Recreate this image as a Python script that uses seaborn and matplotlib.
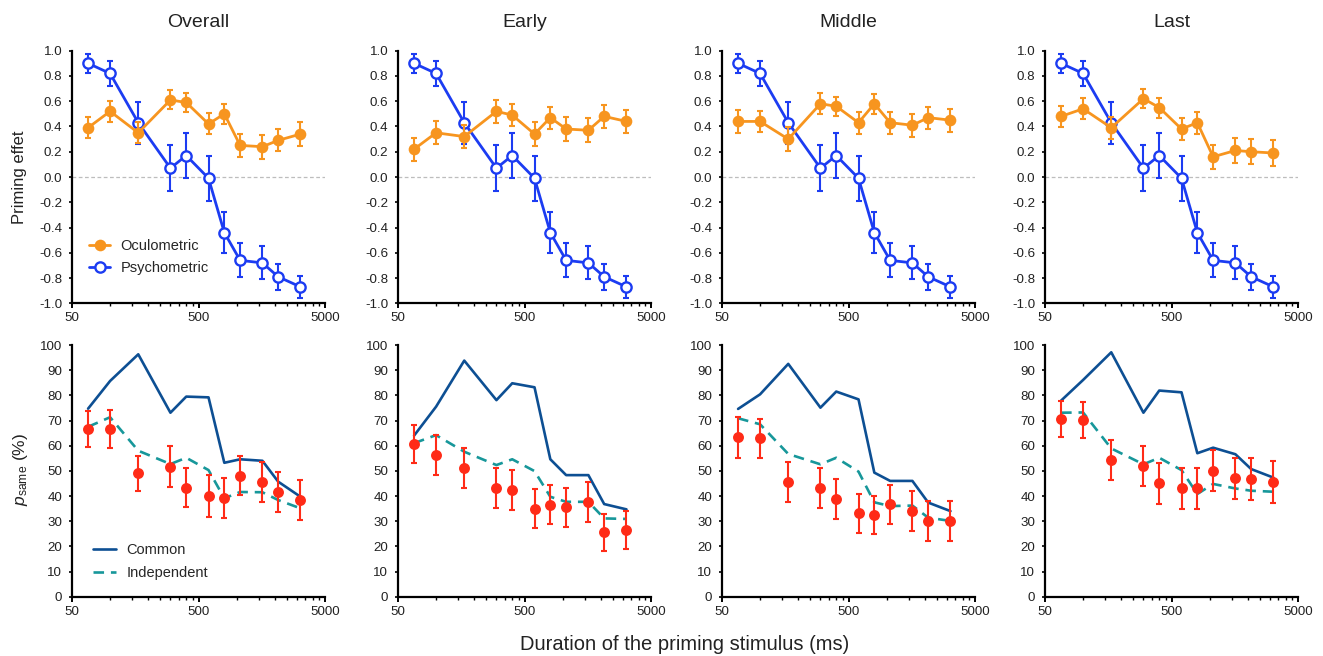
import numpy as np
import pandas as pd
import matplotlib
matplotlib.use("Agg")
import matplotlib.pyplot as plt
from matplotlib.lines import Line2D
from matplotlib.ticker import FixedLocator, FixedFormatter, NullFormatter
import seaborn as sns

# ---------------------------------------------------------------- data
durations = [67, 100, 167, 300, 400, 600, 800, 1067, 1600, 2133, 3200]  # ms
periods = ["Overall", "Early", "Middle", "Last"]

psychometric = [0.90, 0.82, 0.43, 0.07, 0.17, -0.01, -0.44, -0.66, -0.68, -0.79, -0.87]
psychometric_err = [0.075, 0.10, 0.165, 0.18, 0.175, 0.18, 0.16, 0.135, 0.13, 0.105, 0.085]

oculo_overall = [0.39, 0.52, 0.35, 0.61, 0.59, 0.42, 0.50, 0.25, 0.24, 0.29, 0.34]
oculo_overall_err = [0.083, 0.082, 0.082, 0.075, 0.078, 0.083, 0.08, 0.09, 0.094, 0.088, 0.092]
oculo_early = [0.22, 0.35, 0.32, 0.52, 0.49, 0.34, 0.47, 0.38, 0.37, 0.48, 0.44]
oculo_early_err = [0.092, 0.092, 0.092, 0.09, 0.09, 0.092, 0.087, 0.092, 0.095, 0.09, 0.092]
oculo_middle = [0.44, 0.44, 0.30, 0.58, 0.56, 0.43, 0.58, 0.43, 0.41, 0.47, 0.45]
oculo_middle_err = [0.092, 0.086, 0.092, 0.082, 0.077, 0.088, 0.079, 0.088, 0.09, 0.087, 0.092]
oculo_last = [0.48, 0.54, 0.39, 0.62, 0.55, 0.38, 0.43, 0.16, 0.21, 0.20, 0.19]
oculo_last_err = [0.082, 0.082, 0.087, 0.077, 0.079, 0.09, 0.088, 0.096, 0.096, 0.099, 0.099]

psame_overall = [66.6, 66.6, 49.0, 51.7, 43.3, 40.0, 39.3, 48.1, 45.7, 41.7, 38.4]
psame_overall_err = [7.1, 7.5, 7.0, 8.0, 7.7, 8.2, 8.0, 7.8, 8.0, 8.0, 8.0]
common_overall = [74.7, 85.7, 96.3, 73.1, 79.5, 79.2, 53.2, 54.6, 54.0, 45.7, 39.7]
indep_overall = [67.5, 71.3, 58.0, 52.7, 55.2, 50.3, 39.1, 41.6, 41.5, 38.4, 35.1]

psame_early = [60.7, 56.3, 51.0, 43.3, 42.4, 35.0, 36.6, 35.5, 37.6, 25.6, 26.5]
psame_early_err = [7.6, 8.0, 8.0, 8.0, 8.1, 7.6, 7.6, 7.7, 7.9, 7.4, 7.6]
common_early = [64.0, 75.5, 93.8, 78.1, 84.8, 83.2, 54.6, 48.3, 48.3, 36.8, 34.7]
indep_early = [61.0, 64.2, 57.6, 52.3, 54.6, 49.9, 39.7, 37.7, 37.7, 31.1, 30.9]

psame_middle = [63.3, 62.9, 45.7, 43.3, 38.8, 33.1, 32.5, 36.7, 34.0, 30.1, 30.1]
psame_middle_err = [8.0, 7.7, 8.0, 8.0, 8.0, 7.6, 7.6, 7.7, 8.0, 7.8, 7.8]
common_middle = [74.6, 80.4, 92.5, 75.1, 81.5, 78.4, 49.3, 46.0, 46.0, 37.4, 34.0]
indep_middle = [70.9, 68.5, 56.7, 52.6, 55.2, 49.7, 37.5, 36.0, 36.2, 31.4, 30.1]

psame_last = [70.5, 70.2, 54.3, 51.9, 45.0, 43.0, 43.0, 50.1, 47.0, 46.8, 45.7]
psame_last_err = [7.2, 7.3, 8.0, 8.1, 8.1, 8.2, 8.0, 8.1, 8.1, 8.4, 8.4]
common_last = [77.9, 86.1, 97.1, 73.1, 81.9, 81.2, 57.0, 59.2, 56.6, 50.7, 47.3]
indep_last = [73.1, 73.2, 58.9, 52.6, 55.2, 50.3, 40.8, 44.8, 43.0, 42.1, 41.7]

oculo = [(oculo_overall, oculo_overall_err), (oculo_early, oculo_early_err),
         (oculo_middle, oculo_middle_err), (oculo_last, oculo_last_err)]
psame = [(psame_overall, psame_overall_err, common_overall, indep_overall),
         (psame_early, psame_early_err, common_early, indep_early),
         (psame_middle, psame_middle_err, common_middle, indep_middle),
         (psame_last, psame_last_err, common_last, indep_last)]

# ---------------------------------------------------------------- style
sns.set_style("ticks")
plt.rcParams["font.family"] = ["Liberation Sans", "DejaVu Sans"]
plt.rcParams["mathtext.fontset"] = "custom"
plt.rcParams["mathtext.it"] = "Liberation Sans:italic"
plt.rcParams["mathtext.rm"] = "Liberation Sans"
plt.rcParams["axes.unicode_minus"] = False

ORANGE = "#F7951F"
BLUE = "#1C3CF2"
DARKBLUE = "#0D4F93"
TEAL = "#17979A"
RED = "#FF2B17"
TEXT = "#222222"

W, H = 1323, 656
fig = plt.figure(figsize=(W / 100, H / 100), dpi=100)

lefts = [72, 398, 722, 1045]
ax_w = 253
top_row = (50.7, 303.3)
bot_row = (345.0, 596.7)


def make_axes(left, row):
    t, b = row
    return fig.add_axes([left / W, 1 - b / H, ax_w / W, (b - t) / H])


major_x = [50, 500, 5000]
minor_x = [m * 10 ** e for e in (1, 2) for m in (10, 15, 20, 25, 30, 35, 40, 45)]


def fmt_effect(v):
    v = round(v, 1)
    return f"{abs(v):.1f}" if v == 0 else f"{v:.1f}"


def style_axes(ax, ylim, yticks, yfmt):
    ax.set_xscale("log")
    ax.set_xlim(50, 5000)
    ax.set_ylim(*ylim)
    ax.xaxis.set_major_locator(FixedLocator(major_x))
    ax.xaxis.set_major_formatter(FixedFormatter([str(v) for v in major_x]))
    ax.xaxis.set_minor_locator(FixedLocator(minor_x))
    ax.xaxis.set_minor_formatter(NullFormatter())
    ax.set_yticks(yticks)
    ax.set_yticklabels([yfmt(v) for v in yticks])
    for s in ("top", "right"):
        ax.spines[s].set_visible(False)
    for s in ("left", "bottom"):
        ax.spines[s].set_linewidth(1.6)
        ax.spines[s].set_color("black")
    ax.tick_params(axis="x", which="major", length=3.5, width=1.4, pad=3,
                   labelsize=9.6, colors="black", labelcolor=TEXT)
    ax.tick_params(axis="x", which="minor", length=2.2, width=1.0, colors="black")
    ax.tick_params(axis="y", which="major", length=2.5, width=1.2, pad=4.5,
                   labelsize=9.6, colors="black", labelcolor=TEXT)
    ax.set_xlabel("")
    ax.set_ylabel("")


top_axes, bot_axes = [], []
for i, name in enumerate(periods):
    # ---- priming effect panel
    ax = make_axes(lefts[i], top_row)
    ax.set_xscale("log")
    ax.axhline(0, color="#BDBDBD", lw=0.9, ls=(0, (3, 2)), zorder=1)

    df_p = pd.DataFrame({"duration": durations, "effect": psychometric})
    ax.errorbar(durations, psychometric, yerr=psychometric_err, fmt="none",
                ecolor=BLUE, elinewidth=1.5, capsize=2.2, capthick=1.5, zorder=2)
    sns.lineplot(data=df_p, x="duration", y="effect", ax=ax, color=BLUE,
                 linewidth=2.0, marker="o", markersize=7.4, markerfacecolor="white",
                 markeredgecolor=BLUE, markeredgewidth=1.7, errorbar=None,
                 zorder=3)

    vals, errs = oculo[i]
    df_o = pd.DataFrame({"duration": durations, "effect": vals})
    ax.errorbar(durations, vals, yerr=errs, fmt="none", ecolor=ORANGE,
                elinewidth=1.5, capsize=2.2, capthick=1.5, zorder=4)
    sns.lineplot(data=df_o, x="duration", y="effect", ax=ax, color=ORANGE,
                 linewidth=2.0, marker="o", markersize=8.4, markerfacecolor=ORANGE,
                 markeredgewidth=0, errorbar=None, zorder=5)

    style_axes(ax, (-1.0, 1.0), list(np.round(np.arange(-1.0, 1.01, 0.2), 1)),
               fmt_effect)
    ax.text(0.5, 1.0 + 28 / 252.6, name, transform=ax.transAxes, ha="center",
            va="center", fontsize=14, color=TEXT)
    top_axes.append(ax)

    # ---- p_same panel
    bx = make_axes(lefts[i], bot_row)
    bx.set_xscale("log")
    obs, oerr, com, ind = psame[i]
    df_c = pd.DataFrame({"duration": durations, "p": com})
    df_i = pd.DataFrame({"duration": durations, "p": ind})
    sns.lineplot(data=df_c, x="duration", y="p", ax=bx, color=DARKBLUE,
                 linewidth=1.9, errorbar=None, zorder=2)
    sns.lineplot(data=df_i, x="duration", y="p", ax=bx, color=TEAL,
                 linewidth=1.9, linestyle=(0, (4, 2.6)), errorbar=None, zorder=2)
    bx.errorbar(durations, obs, yerr=oerr, fmt="none", ecolor=RED,
                elinewidth=1.5, capsize=2.0, capthick=1.5, zorder=3)
    df_s = pd.DataFrame({"duration": durations, "p": obs})
    sns.scatterplot(data=df_s, x="duration", y="p", ax=bx, color=RED, s=62,
                    linewidth=0, zorder=4)
    style_axes(bx, (0, 100), list(range(0, 101, 10)), lambda v: f"{v:d}")
    bot_axes.append(bx)

# ---------------------------------------------------------------- labels
fig.text(20 / W, 1 - 177 / H, "Priming effet", rotation=90, ha="center",
         va="center", fontsize=12, color=TEXT)
fig.text(20 / W, 1 - 469 / H, r"$p_{\mathrm{same}}$ (%)", rotation=90,
         ha="center", va="center", fontsize=12.5, color=TEXT)
fig.text(685 / W, 1 - 645 / H, "Duration of the priming stimulus (ms)",
         ha="center", va="center", fontsize=14.5, color=TEXT)

# ---------------------------------------------------------------- legends
h_top = [
    Line2D([], [], color=ORANGE, lw=2.0, marker="o", markersize=8.4,
           markerfacecolor=ORANGE, markeredgewidth=0),
    Line2D([], [], color=BLUE, lw=2.0, marker="o", markersize=7.4,
           markerfacecolor="white", markeredgecolor=BLUE, markeredgewidth=1.7),
]
top_axes[0].legend(h_top, ["Oculometric", "Psychometric"], loc="center left",
                   bbox_to_anchor=(0.068, 0.183), frameon=False, fontsize=10.5,
                   handlelength=1.45, handletextpad=0.7, labelspacing=0.55,
                   borderpad=0, borderaxespad=0)

h_bot = [
    Line2D([], [], color=DARKBLUE, lw=1.9),
    Line2D([], [], color=TEAL, lw=1.9, ls=(0, (4, 2.6))),
]
bot_axes[0].legend(h_bot, ["Common", "Independent"], loc="center left",
                   bbox_to_anchor=(0.083, 0.139), frameon=False, fontsize=10.5,
                   handlelength=1.55, handletextpad=0.75, labelspacing=0.6,
                   borderpad=0, borderaxespad=0)

fig.savefig("out.png", dpi=100, facecolor="white")
